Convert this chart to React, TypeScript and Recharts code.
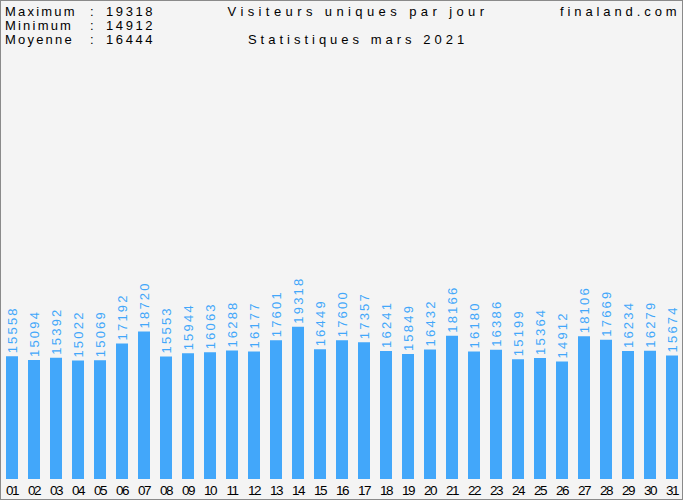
import { BarChart, Bar, XAxis, YAxis, LabelList } from "recharts";

const days = ["01", "02", "03", "04", "05", "06", "07", "08", "09", "10", "11", "12", "13", "14", "15", "16", "17", "18", "19", "20", "21", "22", "23", "24", "25", "26", "27", "28", "29", "30", "31"];
const visitors = [15558, 15094, 15392, 15022, 15069, 17192, 18720, 15553, 15944, 16063, 16288, 16177, 17601, 19318, 16449, 17600, 17357, 16241, 15849, 16432, 18166, 16180, 16386, 15199, 15364, 14912, 18106, 17669, 16234, 16279, 15674];

const statLabels = ["Maximum", "Minimum", "Moyenne"];
const statValues = ["19318", "14912", "16444"];
const title = "Visiteurs uniques par jour";
const subtitle = "Statistiques mars 2021";
const site = "finaland.com";

const data = days.map((d, i) => ({ day: d, value: visitors[i] }));

const BLUE = "#42a7fa";
const font = "'Liberation Sans', Arial, sans-serif";

function ValueLabel(props: any) {
  const { x, y, width, value } = props;
  const cx = x + width / 2 + 5;
  const cy = y - 3;
  return (
    <text
      x={cx}
      y={cy}
      transform={`rotate(-90 ${cx} ${cy})`}
      fill={BLUE}
      fontSize={13}
      fontFamily={font}
      letterSpacing={2.2}
      textAnchor="start"
    >
      {value}
    </text>
  );
}

export default function App() {
  return (
    <div
      style={{
        position: "absolute",
        left: 0,
        top: 0,
        width: 683,
        height: 500,
        background: "#f4f4f4",
      }}
    >
      <BarChart
        width={683}
        height={500}
        data={data}
        margin={{ top: 6, right: 0, bottom: 0, left: 1 }}
        barCategoryGap={0}
      >
        <XAxis
          dataKey="day"
          axisLine={false}
          tickLine={false}
          height={21}
          interval={0}
          tick={{ fontSize: 13.5, fill: "#000", fontFamily: font, letterSpacing: -1.5 }}
          dy={-2}
        />
        <YAxis hide domain={[0, 60000]} />
        <Bar dataKey="value" fill={BLUE} barSize={12} isAnimationActive={false}>
          <LabelList dataKey="value" content={ValueLabel} />
        </Bar>
      </BarChart>
      <svg
        width={683}
        height={500}
        style={{ position: "absolute", left: 0, top: 0, pointerEvents: "none" }}
      >
        <rect x={0.5} y={0.5} width={682} height={499} fill="none" stroke="#8a8a8a" />
        <g fontFamily={font} fontSize={13} fill="#000">
          {statLabels.map((t, i) => (
            <g key={t}>
              <text x={5} y={16 + i * 14} letterSpacing={2.2}>{t}</text>
              <text x={90} y={16 + i * 14}>:</text>
              <text x={106} y={16 + i * 14} letterSpacing={2.6}>{statValues[i]}</text>
            </g>
          ))}
          <text x={358} y={16} textAnchor="middle" letterSpacing={4.4}>{title}</text>
          <text x={358} y={44} textAnchor="middle" letterSpacing={4}>{subtitle}</text>
          <text x={560} y={16} letterSpacing={3.9}>{site}</text>
        </g>
      </svg>
    </div>
  );
}
